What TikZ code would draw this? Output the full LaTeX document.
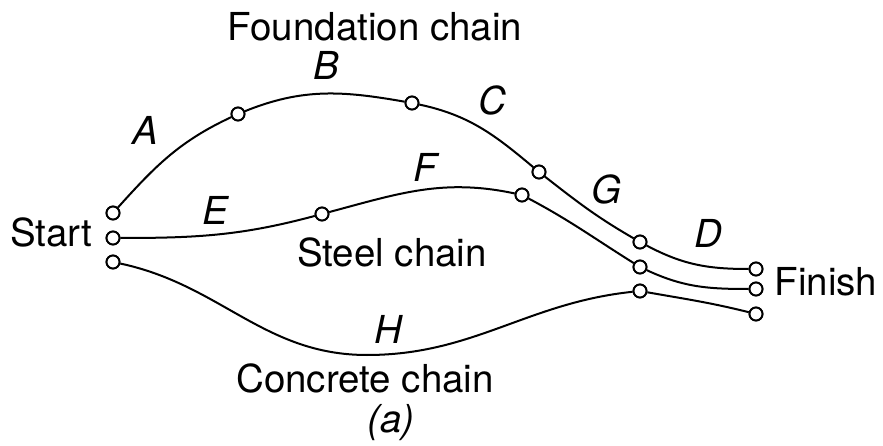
\documentclass[tikz,border=0pt]{standalone}
\usepackage{fontspec}
\setmainfont{TeX Gyre Heros}
\begin{document}
\begin{tikzpicture}[x=1pt,y=1pt,
  ev/.style={circle,draw,fill=white,line width=1.9pt,minimum size=13pt,inner sep=0pt},
  lbl/.style={anchor=base,inner sep=0pt,font=\fontsize{38.5}{44}\selectfont},
  act/.style={anchor=base,inner sep=0pt,font=\fontsize{38.5}{44}\selectfont\itshape},
  chain/.style={line width=2pt}]
\useasboundingbox (0,0) rectangle (883,445);
% events
\node[ev] (s1) at (113,232) {};
\node[ev] (s2) at (113,207) {};
\node[ev] (s3) at (113,183) {};
\node[ev] (ab) at (238,331) {};
\node[ev] (bc) at (412,342) {};
\node[ev] (cg) at (539,273) {};
\node[ev] (gd) at (640,203) {};
\node[ev] (f1) at (756,176) {};
\node[ev] (ef) at (322,231) {};
\node[ev] (fg) at (522,250) {};
\node[ev] (g2) at (640,178) {};
\node[ev] (f2) at (756,156) {};
\node[ev] (h1) at (640,154) {};
\node[ev] (f3) at (756,131) {};
\coordinate (hb) at (367,90);
% foundation chain
\draw[chain] (s1) to[out=48,in=205] (ab);
\draw[chain] (ab) to[out=22,in=170] (bc);
\draw[chain] (bc) to[out=-12,in=140] (cg);
\draw[chain] (cg) to[out=-38,in=150] (gd);
\draw[chain] (gd) to[out=-28,in=180] (f1);
% steel chain
\draw[chain] (s2) to[out=0,in=195] (ef);
\draw[chain] (ef) to[out=15,in=168] (fg);
\draw[chain] (fg) to[out=-28,in=148] (g2);
\draw[chain] (g2) to[out=-25,in=180] (f2);
% concrete chain
\draw[chain] (s3) to[out=-12,in=180] (hb) to[out=0,in=186] (h1);
\draw[chain] (h1) to[out=-10,in=166] (f3);
% redraw circles on top
\foreach \n in {s1,s2,s3,ab,bc,cg,gd,f1,ef,fg,g2,f2,h1,f3}
  \node[ev] at (\n) {};
% labels
\node[lbl] (tf) at (375,404) {Foundation chain};
\node[lbl] (ts) at (392,179) {Steel chain};
\node[lbl] (tc) at (365,53) {Concrete chain};
\node[act] (ta) at (391,13) {(a)};
\node[lbl] (tst) at (51.5,199) {Start};
\node[lbl] (tfi) at (826,150) {Finish};
\node[act] (la) at (145,300) {A};
\node[act] (lb) at (326,365) {B};
\node[act] (lc) at (492,330) {C};
\node[act] (ld) at (708,198) {D};
\node[act] (le) at (215,220) {E};
\node[act] (lf) at (425,263) {F};
\node[act] (lg) at (606,241) {G};
\node[act] (lh) at (388,102) {H};
\end{tikzpicture}
\end{document}
